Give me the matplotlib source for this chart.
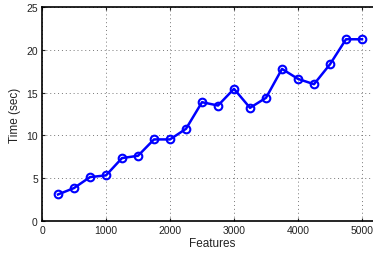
import matplotlib
matplotlib.use("Agg")
import matplotlib.pyplot as plt

features = [250, 500, 750, 1000, 1250, 1500, 1750, 2000, 2250, 2500,
            2750, 3000, 3250, 3500, 3750, 4000, 4250, 4500, 4750, 5000]
time_sec = [3.1, 3.85, 5.13, 5.33, 7.35, 7.62, 9.53, 9.53, 10.77, 13.88,
            13.49, 15.44, 13.22, 14.39, 17.77, 16.6, 15.98, 18.31, 21.23, 21.23]
xticks = [0, 1000, 2000, 3000, 4000, 5000]
yticks = [0, 5, 10, 15, 20, 25]

plt.rcParams['font.family'] = ['Liberation Sans', 'DejaVu Sans']

fig = plt.figure(figsize=(3.73, 2.55), dpi=100)
# the original picture is cropped on the right, so the right spine falls outside
ax = fig.add_axes([42/373, 33/255, 340/373, 214/255])

ax.plot(features, time_sec, '-o', color='#0000ff', linewidth=1.8,
        markersize=5.5, markerfacecolor='none', markeredgewidth=1.5)

ax.set_xlim(0, 5000 * 340 / 320)
ax.set_ylim(0, 25)
ax.set_xticks(xticks)
ax.set_yticks(yticks)
ax.tick_params(direction='in', labelsize=7.5, length=2, width=0.8, pad=3,
               top=True, right=True, colors='#222222')
ax.grid(True, linestyle=(0, (1, 3)), color='#777777', linewidth=0.7)
for s in ax.spines.values():
    s.set_linewidth(1.2)

ax.set_xlabel('Features', fontsize=8.5, labelpad=1, color='#222222')
ax.set_ylabel('Time (sec)', fontsize=8.5, labelpad=4, color='#222222')

fig.savefig('out.png', dpi=100)
